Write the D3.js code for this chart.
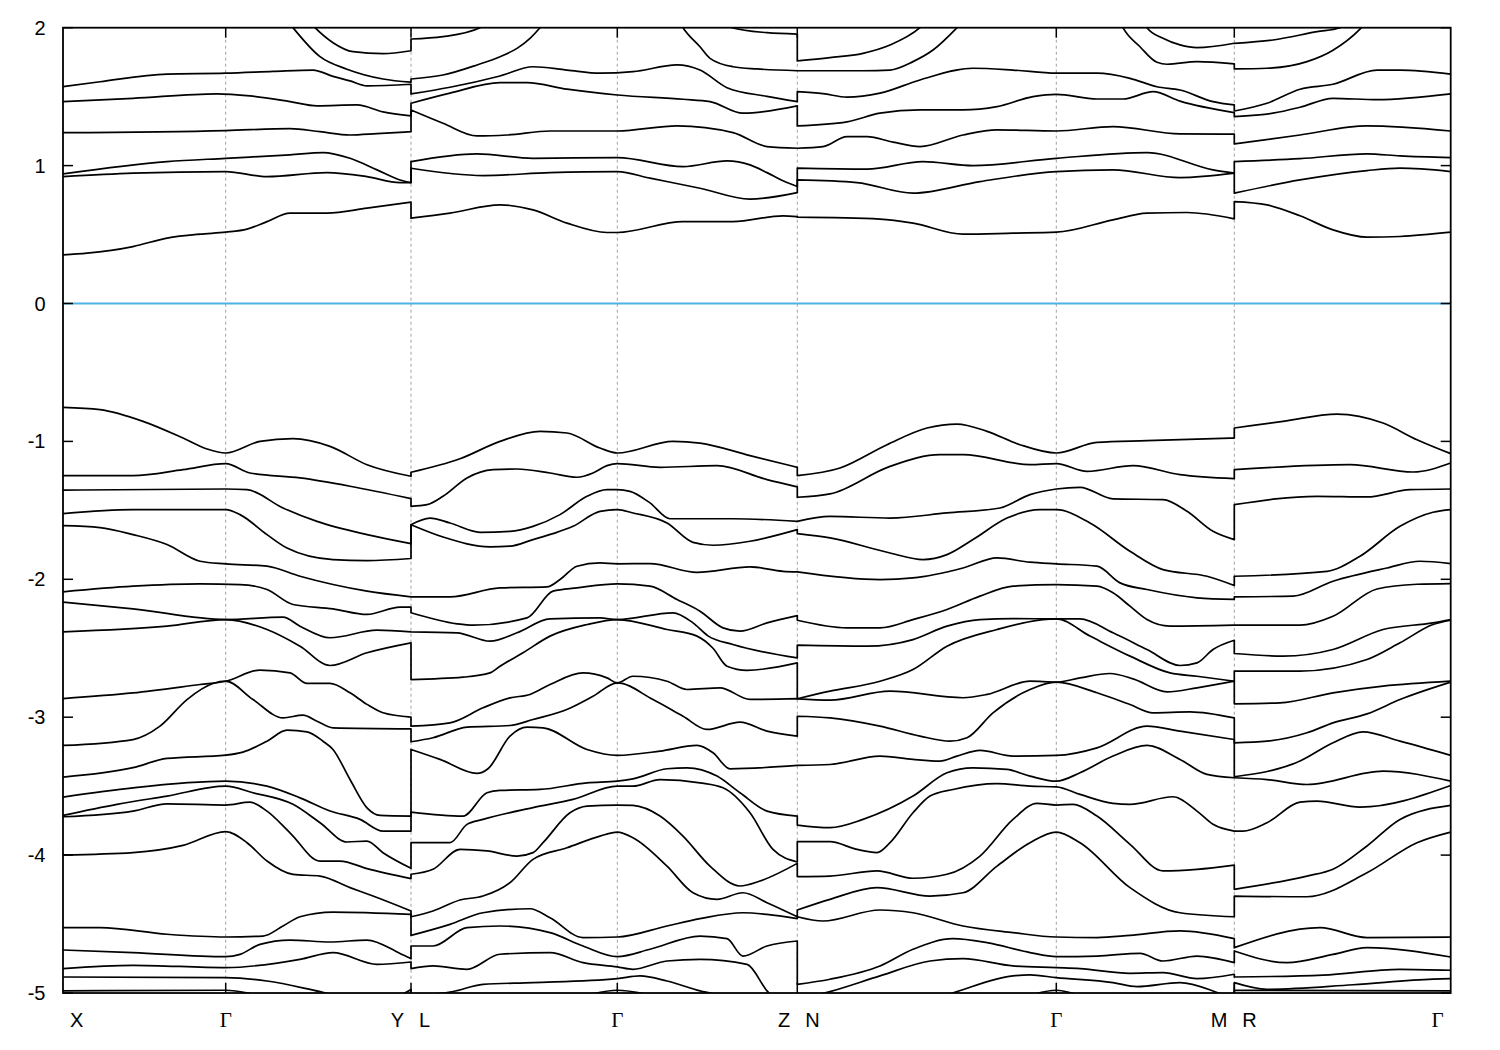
<!DOCTYPE html>
<html><head><meta charset="utf-8">
<script src="https://cdn.jsdelivr.net/npm/d3@7"></script>
<style>body{margin:0;background:#fff;}svg{display:block;}</style>
</head><body>
<svg id="chart" width="1500" height="1050"></svg>
<script>
// ---- k-path (arbitrary path-length units) and labels ----
const kPos = [0, 162.7, 348, 554.3, 734.3, 993.3, 1171.3, 1387.7];
const kLabels = [["X"], ["Γ"], ["Y","L"], ["Γ"], ["Z","N"], ["Γ"], ["M","R"], ["Γ"]];
const yTicks = [-5, -4, -3, -2, -1, 0, 1, 2];
const eRange = [-5, 2];

// ---- bands: four segments each [X-Γ-Y], [L-Γ-Z], [N-Γ-M], [R-Γ]; points [k, E(eV)] ----
const C1 = [
 [[0,0.353],[24,0.365],[70,0.413],[104,0.474],[137,0.503],[162.7,0.517],[184,0.539],[204,0.594],[227,0.655],[264,0.655],[304,0.691],[348,0.735]],
 [[348,0.619],[387,0.655],[437,0.715],[470,0.679],[504,0.583],[544,0.515],[554.3,0.515],[620,0.594],[670,0.594],[720,0.636],[734.3,0.63]],
 [[734.3,0.626],[817,0.612],[850,0.583],[900,0.503],[950,0.51],[993.3,0.517],[1050,0.607],[1084,0.655],[1124,0.66],[1171.3,0.614]],
 [[1171.3,0.739],[1204,0.715],[1237,0.636],[1270,0.534],[1304,0.481],[1337,0.486],[1387.7,0.517]]];
const C2 = [
 [[0,0.92],[70,0.945],[162.7,0.957],[204,0.92],[264,0.949],[304,0.92],[337,0.877],[348,0.877]],
 [[348,0.981],[420,0.928],[487,0.949],[554.3,0.957],[587,0.909],[637,0.836],[687,0.757],[734.3,0.804]],
 [[734.3,0.896],[794,0.877],[850,0.8],[917,0.884],[993.3,0.957],[1050,0.969],[1117,0.913],[1171.3,0.945]],
 [[1171.3,0.8],[1237,0.896],[1304,0.964],[1337,0.981],[1387.7,0.957]]];
const C3 = [
 [[0,0.94],[104,1.029],[162.7,1.053],[227,1.078],[260,1.094],[287,1.053],[314,0.969],[337,0.896],[348,0.877]],
 [[348,1.029],[414,1.085],[470,1.053],[554.3,1.058],[620,0.993],[664,1.034],[687,1.005],[704,0.949],[720,0.89],[734.3,0.848]],
 [[734.3,0.981],[804,0.974],[860,1.029],[910,1.0],[993.3,1.053],[1084,1.094],[1150,0.969],[1171.3,0.945]],
 [[1171.3,1.029],[1237,1.05],[1304,1.085],[1337,1.07],[1387.7,1.058]]];
const C4 = [
 [[0,1.239],[162.7,1.254],[227,1.268],[257,1.246],[287,1.222],[314,1.232],[348,1.246]],
 [[348,1.403],[380,1.307],[414,1.215],[444,1.222],[487,1.251],[554.3,1.251],[614,1.288],[670,1.239],[704,1.138],[734.3,1.126]],
 [[734.3,1.126],[760,1.138],[784,1.21],[804,1.21],[830,1.17],[857,1.138],[900,1.222],[934,1.259],[993.3,1.251],[1050,1.283],[1117,1.23],[1171.3,1.228]],
 [[1171.3,1.157],[1237,1.222],[1304,1.288],[1387.7,1.251]]];
const C5 = [
 [[0,1.464],[70,1.488],[154,1.52],[187,1.505],[227,1.464],[254,1.433],[294,1.44],[320,1.39],[348,1.36]],
 [[348,1.452],[387,1.525],[437,1.601],[464,1.601],[504,1.554],[554.3,1.512],[620,1.481],[647,1.464],[680,1.38],[734.3,1.433]],
 [[734.3,1.288],[784,1.317],[817,1.38],[857,1.404],[900,1.404],[934,1.428],[970,1.5],[993.3,1.517],[1034,1.483],[1060,1.483],[1090,1.536],[1117,1.468],[1171.3,1.384]],
 [[1171.3,1.355],[1210,1.38],[1237,1.423],[1270,1.488],[1314,1.478],[1387.7,1.52]]];
const C6 = [
 [[0,1.572],[37,1.608],[104,1.664],[162.7,1.67],[210,1.683],[250,1.693],[270,1.647],[287,1.614],[304,1.578],[348,1.59]],
 [[348,1.52],[387,1.568],[437,1.65],[470,1.717],[504,1.693],[537,1.67],[570,1.681],[614,1.73],[637,1.693],[664,1.565],[704,1.502],[734.3,1.464]],
 [[734.3,1.536],[760,1.522],[784,1.496],[817,1.525],[857,1.621],[910,1.706],[950,1.693],[993.3,1.67],[1034,1.67],[1067,1.633],[1094,1.572],[1117,1.548],[1150,1.464],[1171.3,1.44]],
 [[1171.3,1.396],[1204,1.452],[1237,1.554],[1270,1.59],[1314,1.693],[1337,1.693],[1387.7,1.664]]];
const C7 = [
 [[0,2.8],[162.7,2.6],[200,2.3],[230,2.0],[257,1.79],[284,1.699],[320,1.628],[348,1.605]],
 [[348,1.628],[380,1.657],[414,1.73],[437,1.79],[454,1.85],[467,1.923],[477,2.0],[515,2.4],[554.3,2.6],[595,2.4],[620,2.0],[637,1.862],[647,1.778],[670,1.717],[694,1.701],[734.3,1.688]],
 [[734.3,1.688],[800,1.688],[827,1.693],[850,1.754],[870,1.838],[894,2.0],[940,2.4],[993.3,2.6],[1040,2.4],[1060,2.0],[1077,1.862],[1094,1.749],[1104,1.735],[1134,1.754],[1171.3,1.737]],
 [[1171.3,1.701],[1204,1.706],[1244,1.754],[1270,1.837],[1297,1.99],[1330,2.3],[1387.7,2.5]]];
const C8 = [
 [[0,3.0],[162.7,2.9],[220,2.3],[252,2.0],[270,1.891],[290,1.826],[320,1.812],[348,1.833]],
 [[348,1.918],[380,1.935],[417,2.0],[470,2.4],[554.3,2.8],[640,2.4],[669,2.0],[704,1.964],[734.3,1.954]],
 [[734.3,1.759],[767,1.783],[800,1.814],[827,1.874],[857,2.0],[900,2.4],[993.3,2.8],[1060,2.4],[1084,2.0],[1100,1.923],[1117,1.875],[1134,1.855],[1171.3,1.887]],
 [[1171.3,1.887],[1210,1.911],[1254,1.971],[1277,2.0],[1320,2.4],[1387.7,2.7]]];

const V1 = [
 [[0,-0.753],[37,-0.77],[80,-0.855],[120,-0.976],[144,-1.055],[162.7,-1.084],[197,-1.0],[230,-0.98],[267,-1.036],[304,-1.169],[348,-1.253]],
 [[348,-1.224],[397,-1.126],[437,-1.0],[477,-0.927],[504,-0.939],[537,-1.048],[554.3,-1.084],[610,-1.0],[637,-1.012],[687,-1.103],[734.3,-1.188]],
 [[734.3,-1.248],[777,-1.193],[824,-1.024],[864,-0.903],[894,-0.874],[924,-0.927],[957,-1.024],[993.3,-1.084],[1034,-1.007],[1084,-0.995],[1171.3,-0.976]],
 [[1171.3,-0.903],[1220,-0.855],[1274,-0.802],[1320,-0.867],[1354,-0.988],[1387.7,-1.089]]];
const V2 = [
 [[0,-1.248],[70,-1.248],[120,-1.205],[162.7,-1.161],[187,-1.229],[237,-1.265],[287,-1.325],[348,-1.415]],
 [[348,-1.471],[364,-1.459],[380,-1.398],[404,-1.265],[430,-1.205],[454,-1.2],[487,-1.229],[514,-1.26],[530,-1.229],[544,-1.176],[554.3,-1.161],[597,-1.188],[654,-1.176],[704,-1.277],[734.3,-1.33]],
 [[734.3,-1.405],[767,-1.381],[827,-1.181],[877,-1.096],[900,-1.096],[967,-1.169],[993.3,-1.161],[1024,-1.217],[1070,-1.176],[1117,-1.241],[1171.3,-1.27]],
 [[1171.3,-1.205],[1287,-1.169],[1350,-1.222],[1387.7,-1.157]]];
const V3 = [
 [[0,-1.354],[162.7,-1.345],[184,-1.35],[220,-1.483],[254,-1.58],[304,-1.676],[348,-1.741]],
 [[348,-1.604],[367,-1.556],[387,-1.592],[417,-1.659],[447,-1.652],[470,-1.616],[497,-1.531],[524,-1.398],[544,-1.35],[554.3,-1.35],[567,-1.362],[587,-1.446],[607,-1.561],[670,-1.561],[734.3,-1.58]],
 [[734.3,-1.58],[767,-1.544],[827,-1.556],[884,-1.519],[937,-1.483],[967,-1.386],[993.3,-1.345],[1017,-1.333],[1050,-1.417],[1100,-1.422],[1124,-1.507],[1150,-1.652],[1171.3,-1.712]],
 [[1171.3,-1.459],[1254,-1.398],[1304,-1.403],[1347,-1.35],[1387.7,-1.345]]];
const V4 = [
 [[0,-1.524],[70,-1.495],[162.7,-1.495],[177,-1.531],[204,-1.676],[224,-1.773],[270,-1.857],[304,-1.864],[348,-1.849]],
 [[348,-1.604],[380,-1.693],[427,-1.765],[447,-1.76],[470,-1.712],[490,-1.669],[510,-1.616],[537,-1.507],[554.3,-1.495],[570,-1.519],[604,-1.592],[630,-1.732],[650,-1.753],[687,-1.724],[734.3,-1.64]],
 [[734.3,-1.669],[767,-1.7],[827,-1.809],[860,-1.857],[884,-1.821],[910,-1.712],[944,-1.556],[977,-1.495],[993.3,-1.495],[1027,-1.592],[1067,-1.797],[1100,-1.93],[1144,-1.978],[1171.3,-2.045]],
 [[1171.3,-1.978],[1264,-1.942],[1297,-1.833],[1337,-1.616],[1370,-1.514],[1387.7,-1.495]]];
const V5 = [
 [[0,-1.611],[37,-1.625],[70,-1.676],[104,-1.748],[137,-1.869],[162.7,-1.888],[204,-1.905],[237,-1.978],[270,-2.038],[304,-2.086],[348,-2.127]],
 [[348,-2.127],[387,-2.127],[437,-2.062],[484,-2.055],[497,-2.002],[514,-1.905],[537,-1.881],[554.3,-1.888],[587,-1.886],[634,-1.95],[687,-1.91],[720,-1.942],[734.3,-1.946]],
 [[734.3,-1.946],[817,-2.002],[850,-1.99],[900,-1.918],[934,-1.845],[967,-1.876],[993.3,-1.888],[1034,-1.905],[1057,-2.026],[1084,-2.074],[1134,-2.134],[1171.3,-2.146]],
 [[1171.3,-2.127],[1230,-2.122],[1270,-2.014],[1324,-1.918],[1357,-1.869],[1387.7,-1.886]]];
const V6 = [
 [[0,-2.091],[70,-2.05],[137,-2.033],[177,-2.038],[204,-2.074],[230,-2.183],[270,-2.214],[304,-2.255],[337,-2.202],[348,-2.202]],
 [[348,-2.243],[394,-2.323],[410,-2.333],[464,-2.28],[490,-2.086],[514,-2.062],[554.3,-2.033],[587,-2.05],[614,-2.146],[637,-2.231],[660,-2.352],[677,-2.376],[704,-2.316],[734.3,-2.263]],
 [[734.3,-2.297],[784,-2.352],[817,-2.352],[850,-2.292],[884,-2.219],[917,-2.122],[950,-2.05],[993.3,-2.038],[1034,-2.05],[1050,-2.098],[1067,-2.195],[1084,-2.292],[1107,-2.34],[1171.3,-2.333]],
 [[1171.3,-2.333],[1237,-2.333],[1270,-2.268],[1314,-2.07],[1354,-2.036],[1387.7,-2.031]]];
const V7 = [
 [[0,-2.165],[70,-2.214],[162.7,-2.292],[220,-2.275],[237,-2.34],[267,-2.424],[314,-2.369],[348,-2.381]],
 [[348,-2.381],[394,-2.388],[427,-2.449],[454,-2.388],[487,-2.287],[537,-2.28],[554.3,-2.292],[610,-2.243],[630,-2.316],[645,-2.41],[670,-2.473],[734.3,-2.57]],
 [[734.3,-2.478],[804,-2.485],[850,-2.437],[884,-2.34],[917,-2.292],[950,-2.285],[993.3,-2.287],[1017,-2.287],[1050,-2.388],[1084,-2.509],[1117,-2.625],[1134,-2.606],[1150,-2.509],[1171.3,-2.442]],
 [[1171.3,-2.538],[1220,-2.557],[1270,-2.509],[1320,-2.364],[1370,-2.316],[1387.7,-2.292]]];
const V8 = [
 [[0,-2.381],[104,-2.34],[162.7,-2.292],[204,-2.364],[237,-2.485],[267,-2.625],[304,-2.533],[348,-2.461]],
 [[348,-2.727],[400,-2.71],[427,-2.679],[437,-2.631],[460,-2.533],[487,-2.412],[524,-2.328],[554.3,-2.292],[604,-2.364],[634,-2.412],[650,-2.5],[664,-2.63],[684,-2.66],[734.3,-2.606]],
 [[734.3,-2.866],[767,-2.811],[817,-2.739],[850,-2.654],[884,-2.485],[934,-2.364],[993.3,-2.287],[1027,-2.412],[1067,-2.557],[1107,-2.679],[1134,-2.703],[1171.3,-2.739]],
 [[1171.3,-2.666],[1237,-2.666],[1304,-2.582],[1337,-2.461],[1370,-2.328],[1387.7,-2.297]]];
const V9 = [
 [[0,-2.865],[70,-2.824],[137,-2.763],[162.7,-2.739],[197,-2.658],[227,-2.678],[244,-2.755],[267,-2.755],[287,-2.823],[304,-2.907],[320,-2.968],[348,-3.0]],
 [[348,-3.065],[387,-3.041],[420,-2.932],[447,-2.86],[467,-2.835],[487,-2.763],[520,-2.679],[544,-2.715],[554.3,-2.751],[570,-2.703],[604,-2.739],[624,-2.799],[657,-2.787],[687,-2.871],[734.3,-2.866]],
 [[734.3,-2.867],[767,-2.876],[827,-2.811],[900,-2.859],[924,-2.835],[967,-2.739],[993.3,-2.746],[1017,-2.715],[1047,-2.683],[1070,-2.722],[1104,-2.816],[1134,-2.787],[1171.3,-2.739]],
 [[1171.3,-2.903],[1217,-2.896],[1270,-2.823],[1320,-2.775],[1387.7,-2.739]]];
const V10 = [
 [[0,-3.205],[70,-3.162],[97,-3.065],[124,-2.872],[150,-2.756],[162.7,-2.739],[190,-2.872],[220,-3.005],[240,-2.985],[254,-3.029],[270,-3.077],[348,-3.084]],
 [[348,-3.178],[370,-3.149],[404,-3.072],[447,-3.06],[470,-3.017],[505,-2.94],[530,-2.848],[554.3,-2.751],[590,-2.872],[620,-2.993],[644,-3.089],[677,-3.036],[704,-3.101],[734.3,-3.137]],
 [[734.3,-2.993],[767,-3.005],[817,-3.065],[857,-3.137],[887,-3.174],[904,-3.149],[930,-2.968],[967,-2.799],[993.3,-2.746],[1034,-2.823],[1067,-2.908],[1090,-2.968],[1127,-2.961],[1171.3,-3.005]],
 [[1171.3,-3.186],[1204,-3.174],[1244,-3.113],[1270,-3.041],[1304,-2.976],[1337,-2.872],[1387.7,-2.746]]];
const V11 = [
 [[0,-3.434],[70,-3.366],[104,-3.299],[162.7,-3.275],[180,-3.253],[204,-3.174],[224,-3.094],[244,-3.106],[260,-3.174],[270,-3.234],[287,-3.452],[304,-3.657],[317,-3.712],[348,-3.717]],
 [[348,-3.234],[377,-3.306],[414,-3.408],[425,-3.374],[447,-3.137],[464,-3.072],[480,-3.077],[524,-3.234],[554.3,-3.277],[597,-3.246],[634,-3.205],[650,-3.258],[667,-3.374],[734.3,-3.35]],
 [[734.3,-3.35],[767,-3.343],[817,-3.282],[850,-3.306],[877,-3.318],[894,-3.282],[917,-3.241],[950,-3.282],[993.3,-3.277],[1034,-3.222],[1084,-3.065],[1117,-3.101],[1171.3,-3.162]],
 [[1171.3,-3.432],[1237,-3.318],[1270,-3.186],[1300,-3.106],[1337,-3.174],[1387.7,-3.277]]];
const V12 = [
 [[0,-3.579],[70,-3.512],[162.7,-3.464],[204,-3.5],[237,-3.585],[267,-3.68],[297,-3.741],[320,-3.826],[348,-3.826]],
 [[348,-3.688],[400,-3.717],[424,-3.548],[437,-3.531],[477,-3.524],[524,-3.476],[554.3,-3.464],[570,-3.447],[604,-3.374],[624,-3.367],[654,-3.427],[677,-3.548],[704,-3.681],[734.3,-3.717]],
 [[734.3,-3.782],[767,-3.801],[800,-3.741],[850,-3.572],[884,-3.403],[910,-3.367],[944,-3.379],[967,-3.427],[993.3,-3.464],[1017,-3.403],[1050,-3.282],[1084,-3.205],[1117,-3.306],[1144,-3.415],[1171.3,-3.439]],
 [[1171.3,-3.439],[1204,-3.452],[1244,-3.488],[1320,-3.391],[1387.7,-3.464]]];
const V13 = [
 [[0,-3.712],[54,-3.632],[104,-3.572],[162.7,-3.5],[190,-3.548],[230,-3.632],[257,-3.765],[284,-3.905],[304,-3.898],[320,-3.983],[348,-4.096]],
 [[348,-3.91],[387,-3.91],[404,-3.777],[420,-3.741],[470,-3.656],[510,-3.596],[554.3,-3.5],[570,-3.5],[597,-3.452],[637,-3.476],[660,-3.512],[687,-3.693],[710,-3.959],[734.3,-4.05]],
 [[734.3,-3.903],[767,-3.903],[794,-3.959],[814,-3.982],[827,-3.91],[850,-3.693],[867,-3.572],[890,-3.524],[934,-3.481],[967,-3.5],[993.3,-3.505],[1017,-3.56],[1050,-3.625],[1067,-3.632],[1110,-3.577],[1134,-3.681],[1150,-3.777],[1171.3,-3.826]],
 [[1171.3,-3.826],[1180,-3.826],[1204,-3.765],[1237,-3.616],[1254,-3.608],[1297,-3.652],[1387.7,-3.495]]];
const V14 = [
 [[0,-3.722],[70,-3.681],[104,-3.628],[162.7,-3.637],[187,-3.616],[204,-3.681],[227,-3.838],[257,-4.043],[277,-4.043],[304,-4.098],[348,-4.171]],
 [[348,-4.139],[370,-4.103],[397,-3.958],[424,-3.97],[454,-4.007],[470,-3.982],[480,-3.91],[507,-3.693],[524,-3.645],[554.3,-3.637],[570,-3.64],[597,-3.717],[620,-3.862],[647,-4.08],[677,-4.224],[697,-4.188],[734.3,-4.06]],
 [[734.3,-4.156],[767,-4.152],[814,-4.115],[850,-4.168],[884,-4.139],[917,-4.007],[950,-3.741],[974,-3.625],[993.3,-3.637],[1010,-3.632],[1034,-3.717],[1067,-3.922],[1100,-4.115],[1134,-4.103],[1171.3,-4.072]],
 [[1171.3,-4.248],[1244,-4.152],[1270,-4.103],[1304,-3.934],[1337,-3.741],[1387.7,-3.64]]];
const V15 = [
 [[0,-3.999],[70,-3.982],[120,-3.93],[162.7,-3.83],[184,-3.91],[204,-4.043],[230,-4.14],[257,-4.152],[287,-4.236],[310,-4.297],[348,-4.405]],
 [[348,-4.447],[370,-4.405],[397,-4.326],[420,-4.297],[447,-4.2],[470,-4.031],[504,-3.947],[537,-3.862],[554.3,-3.833],[570,-3.874],[604,-4.08],[630,-4.273],[654,-4.321],[680,-4.273],[704,-4.345],[734.3,-4.447]],
 [[734.3,-4.398],[767,-4.321],[814,-4.236],[867,-4.297],[900,-4.273],[934,-4.08],[967,-3.91],[993.3,-3.833],[1017,-3.91],[1067,-4.236],[1117,-4.418],[1171.3,-4.447]],
 [[1171.3,-4.297],[1244,-4.302],[1304,-4.128],[1354,-3.91],[1387.7,-3.833]]];
const V16 = [
 [[0,-4.526],[37,-4.526],[104,-4.574],[162.7,-4.594],[200,-4.587],[220,-4.514],[237,-4.447],[270,-4.413],[348,-4.43]],
 [[348,-4.582],[387,-4.502],[420,-4.418],[467,-4.389],[487,-4.454],[520,-4.598],[554.3,-4.594],[604,-4.514],[637,-4.461],[680,-4.418],[704,-4.43],[734.3,-4.461]],
 [[734.3,-4.447],[760,-4.478],[817,-4.398],[850,-4.418],[900,-4.514],[950,-4.562],[993.3,-4.594],[1034,-4.598],[1067,-4.582],[1117,-4.55],[1171.3,-4.606]],
 [[1171.3,-4.671],[1257,-4.526],[1304,-4.598],[1387.7,-4.594]]];
const V17 = [
 [[0,-4.688],[70,-4.707],[162.7,-4.736],[177,-4.72],[197,-4.647],[227,-4.616],[267,-4.63],[304,-4.616],[337,-4.713],[348,-4.751]],
 [[348,-4.659],[370,-4.659],[404,-4.526],[437,-4.514],[487,-4.562],[520,-4.659],[554.3,-4.736],[587,-4.683],[637,-4.587],[664,-4.606],[680,-4.732],[704,-4.659],[734.3,-4.623]],
 [[734.3,-4.937],[767,-4.9],[817,-4.804],[850,-4.683],[890,-4.606],[924,-4.635],[967,-4.707],[993.3,-4.736],[1034,-4.732],[1077,-4.712],[1100,-4.768],[1134,-4.732],[1171.3,-4.78]],
 [[1171.3,-4.695],[1224,-4.78],[1270,-4.72],[1304,-4.671],[1387.7,-4.739]]];
const V18 = [
 [[0,-4.823],[70,-4.799],[162.7,-4.816],[237,-4.756],[270,-4.707],[314,-4.792],[348,-4.775]],
 [[348,-4.823],[370,-4.804],[404,-4.828],[437,-4.719],[487,-4.707],[520,-4.78],[554.3,-4.81],[570,-4.828],[604,-4.768],[637,-4.756],[684,-4.792],[704,-4.985],[720,-5.1],[734.3,-5.15]],
 [[734.3,-5.05],[767,-4.99],[817,-4.876],[867,-4.768],[900,-4.751],[950,-4.804],[993.3,-4.816],[1017,-4.823],[1067,-4.857],[1100,-4.852],[1134,-4.896],[1171.3,-4.864]],
 [[1171.3,-4.884],[1260,-4.87],[1337,-4.828],[1387.7,-4.835]]];
const V19 = [
 [[0,-4.884],[162.7,-4.889],[204,-4.913],[257,-4.99],[290,-5.04],[330,-5.03],[348,-4.975]],
 [[348,-5.02],[390,-4.99],[420,-4.937],[470,-4.925],[554.3,-4.896],[577,-4.876],[604,-4.913],[637,-4.985],[680,-5.05],[734.3,-5.2]],
 [[734.3,-5.2],[850,-5.1],[894,-4.99],[950,-4.876],[967,-4.869],[993.3,-4.889],[1050,-4.925],[1074,-4.954],[1117,-4.925],[1150,-4.985],[1171.3,-5.05]],
 [[1171.3,-4.925],[1204,-4.973],[1290,-4.94],[1370,-4.9],[1387.7,-4.896]]];
const V20 = [
 [[0,-4.985],[162.7,-4.98],[200,-5.02],[348,-5.1]],
 [[348,-5.1],[500,-5.05],[554.3,-4.98],[610,-5.05],[734.3,-5.2]],
 [[734.3,-5.3],[950,-5.05],[993.3,-4.98],[1030,-5.05],[1171.3,-5.3]],
 [[1171.3,-4.98],[1387.7,-4.985]]];

const bands = [C1,C2,C3,C4,C5,C6,C7,C8,V1,V2,V3,V4,V5,V6,V7,V8,V9,V10,V11,V12,V13,V14,V15,V16,V17,V18,V19,V20];

// ---- drawing ----
const svg = d3.select("#chart");
const L = 63, R = 1450.7, T = 27.7, B = 993;
const x = d3.scaleLinear().domain([kPos[0], kPos[kPos.length-1]]).range([L, R]);
const y = d3.scaleLinear().domain(eRange).range([B, T]);
const font = "'Liberation Sans', Arial, sans-serif";

svg.append("defs").append("clipPath").attr("id","clip")
  .append("rect").attr("x",L).attr("y",T).attr("width",R-L).attr("height",B-T);

// vertical dotted lines at interior high-symmetry points
svg.append("g").selectAll("line").data(kPos.slice(1,-1)).join("line")
  .attr("x1",d=>x(d)).attr("x2",d=>x(d)).attr("y1",T).attr("y2",B)
  .attr("stroke","#a0a0a0").attr("stroke-width",1).attr("stroke-dasharray","3,3");

// Fermi level
svg.append("line").attr("x1",L).attr("x2",R).attr("y1",y(0)).attr("y2",y(0))
  .attr("stroke","#4db3e6").attr("stroke-width",2);

// bands
const line = d3.line().x(d=>x(d[0])).y(d=>y(d[1])).curve(d3.curveMonotoneX);
const bandPath = segs => segs.map((s,i)=>{const p=line(s);return i===0?p:p.replace(/^M/,"L");}).join("");
svg.append("g").attr("clip-path","url(#clip)").selectAll("path").data(bands).join("path")
  .attr("d", bandPath).attr("fill","none").attr("stroke","#000").attr("stroke-width",1.7)
  .attr("stroke-linejoin","round");

// frame
svg.append("rect").attr("x",L).attr("y",T).attr("width",R-L).attr("height",B-T)
  .attr("fill","none").attr("stroke","#000").attr("stroke-width",1.8);

// y ticks (mirrored)
const yt = svg.append("g");
yTicks.forEach(v=>{
  yt.append("line").attr("x1",L).attr("x2",L+10).attr("y1",y(v)).attr("y2",y(v)).attr("stroke","#000").attr("stroke-width",1.5);
  yt.append("line").attr("x1",R-10).attr("x2",R).attr("y1",y(v)).attr("y2",y(v)).attr("stroke","#000").attr("stroke-width",1.5);
  yt.append("text").attr("x",45.5).attr("y",y(v)).attr("dy","0.35em").attr("text-anchor","end")
    .attr("font-family",font).attr("font-size",20).text(String(v));
});

// x ticks (mirrored) and labels
const xt = svg.append("g");
kPos.forEach((k,i)=>{
  if(i>0 && i<kPos.length-1){
    xt.append("line").attr("x1",x(k)).attr("x2",x(k)).attr("y1",B-10).attr("y2",B).attr("stroke","#000").attr("stroke-width",1.5);
    xt.append("line").attr("x1",x(k)).attr("x2",x(k)).attr("y1",T).attr("y2",T+10).attr("stroke","#000").attr("stroke-width",1.5);
  }
  const lab = kLabels[i];
  const mk = (t, xx, anchor) => xt.append("text").attr("x",xx).attr("y",1027).attr("text-anchor",anchor)
      .attr("font-family", t==="Γ" ? "'Liberation Serif', 'Times New Roman', serif" : font)
      .attr("font-size", t==="Γ" ? 21 : 20).text(t);
  if(lab.length===2){ mk(lab[0], x(k)-7, "end"); mk(lab[1], x(k)+8, "start"); }
  else if(i===0){ mk(lab[0], x(k)+7, "start"); }
  else if(i===kPos.length-1){ mk(lab[0], x(k)-7, "end"); }
  else { mk(lab[0], x(k), "middle"); }
});
</script>
</body></html>
